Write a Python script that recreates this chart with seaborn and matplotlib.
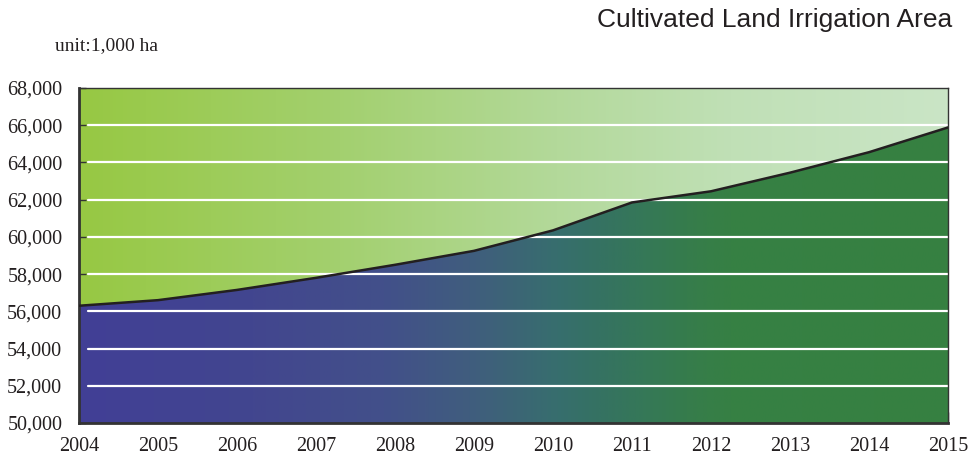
import numpy as np
import pandas as pd
import matplotlib
matplotlib.use("Agg")
import matplotlib.pyplot as plt
from matplotlib.colors import LinearSegmentedColormap
import seaborn as sns

years = [2004, 2005, 2006, 2007, 2008, 2009, 2010, 2011, 2012, 2013, 2014, 2015]
irrigation_area = [56300, 56600, 57150, 57800, 58500, 59250, 60350, 61850, 62450, 63450, 64550, 65880]
y_ticks = [50000, 52000, 54000, 56000, 58000, 60000, 62000, 64000, 66000, 68000]
title = "Cultivated Land Irrigation Area"
unit_label = "unit:1,000 ha"

df = pd.DataFrame({"year": years, "area": irrigation_area})

sns.set_theme(style="white")
plt.rcParams["font.family"] = ["Liberation Serif", "DejaVu Serif"]

fig = plt.figure(figsize=(9.72, 4.62), dpi=100)
ax = fig.add_axes([79/972, 1-423/462, (948-79)/972, (423-88)/462])

x0, x1 = years[0], years[-1]
y0, y1 = y_ticks[0], y_ticks[-1]

bg_cmap = LinearSegmentedColormap.from_list(
    "bg", [(0.0, "#97c843"), (0.3, "#a3d06f"), (0.55, "#b3d99a"),
           (0.75, "#c0e0b6"), (1.0, "#cae5c6")])
fg_cmap = LinearSegmentedColormap.from_list(
    "fg", [(0.0, "#413f96"), (0.2, "#42468f"), (0.35, "#42508a"), (0.45, "#405d7e"),
           (0.5, "#3c6576"), (0.55, "#376e6e"), (0.6, "#357262"), (0.65, "#357858"),
           (0.7, "#367c4c"), (0.75, "#368044"), (1.0, "#368141")])
grad = np.linspace(0, 1, 512).reshape(1, -1)
ax.imshow(grad, cmap=bg_cmap, extent=[x0, x1, y0, y1], aspect="auto", zorder=0)
fg = ax.imshow(grad, cmap=fg_cmap, extent=[x0, x1, y0, y1], aspect="auto", zorder=1)
poly = ax.fill_between(df["year"], df["area"], y0, color="none", lw=0)
fg.set_clip_path(poly.get_paths()[0], transform=ax.transData)

for yt in y_ticks[1:-1]:
    ax.axhline(yt, xmin=9/869, xmax=1, color="white", lw=1.6, zorder=2)

sns.lineplot(data=df, x="year", y="area", ax=ax, color="#231f20", lw=1.8, zorder=3)

ax.set_xlim(x0, x1)
ax.set_ylim(y0, y1)
ax.set_xticks(years)
ax.set_xticklabels([str(y) for y in years])
ax.set_yticks(y_ticks)
ax.set_yticklabels([f"{v:,}" for v in y_ticks])
ax.set_xlabel("")
ax.set_ylabel("")
ax.tick_params(axis="x", direction="in", length=8, width=1, color="#333333",
               labelsize=14.5, pad=10, labelcolor="#231f20", bottom=True)
ax.tick_params(axis="y", direction="in", length=5, width=1, color="#333333",
               labelsize=14.5, pad=12, labelcolor="#231f20", left=True)
for s in ["left", "bottom"]:
    ax.spines[s].set_linewidth(2)
    ax.spines[s].set_color("#333333")
for s in ["top", "right"]:
    ax.spines[s].set_linewidth(1)
    ax.spines[s].set_color("#333333")
ax.grid(False)

fig.text(55/972, 1-46/462, unit_label, fontsize=14, color="#231f20",
         ha="left", va="center", family=["Liberation Serif"])
fig.text(952/972, 1-20/462, title, fontsize=19, color="#231f20",
         ha="right", va="center", family=["Liberation Sans"])

fig.savefig("out.png", dpi=100)
